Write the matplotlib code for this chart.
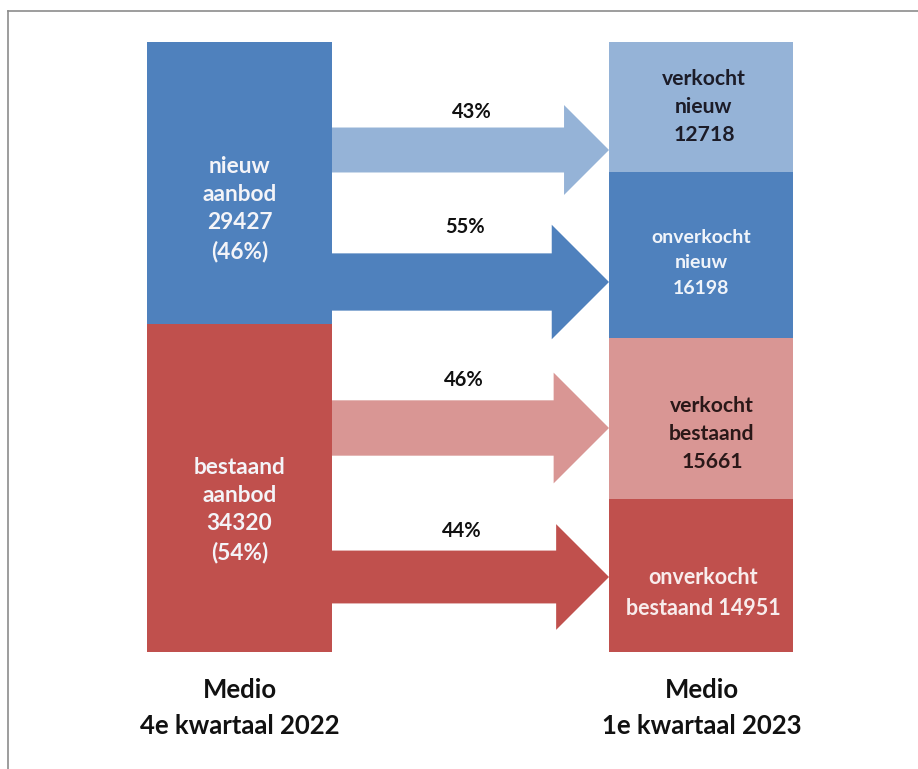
import matplotlib
matplotlib.use("Agg")
import matplotlib.pyplot as plt
from matplotlib.patches import Polygon
from matplotlib.lines import Line2D

# ---- data -------------------------------------------------------------
source_labels = ["nieuw\naanbod\n29427\n(46%)", "bestaand\naanbod\n34320\n(54%)"]
source_values = [29427, 34320]

target_labels = ["verkocht\nnieuw\n12718", "onverkocht\nnieuw\n16198",
                 "verkocht\nbestaand\n15661", "onverkocht\nbestaand 14951"]
target_values = [12718, 16198, 15661, 14951]

flow_pct = ["43%", "55%", "46%", "44%"]

period_labels = ["Medio\n4e kwartaal 2022", "Medio\n1e kwartaal 2023"]

# ---- styling ----------------------------------------------------------
BLUE, LBLUE = "#4F81BD", "#95B3D7"
RED, LRED = "#C0504D", "#D99694"
source_colors = [BLUE, RED]
target_colors = [LBLUE, BLUE, LRED, RED]
arrow_colors = [LBLUE, BLUE, LRED, RED]
FONT = "Lato"

W, H = 918, 769
fig = plt.figure(figsize=(W / 100, H / 100), dpi=100)
fig.patch.set_facecolor("white")

# axes: x in pixel-like layout units, y as share of column total (0 top, 1 bottom)
top_px, bot_px = 42, 652
ax = fig.add_axes([0, (H - bot_px) / H, 1, (bot_px - top_px) / H])
ax.set_xlim(0, W)
ax.set_ylim(1, 0)
ax.axis("off")
px_per_share = bot_px - top_px

left_x, left_w = 239.5, 185
right_x, right_w = 701, 184

# stacked columns
def stacked(x, w, values, colors):
    total = sum(values)
    segs, b = [], 0.0
    for v, c in zip(values, colors):
        s = v / total
        ax.bar(x, s, bottom=b, width=w, color=c, linewidth=0, align="center")
        segs.append((b, s))
        b += s
    return segs

src = stacked(left_x, left_w, source_values, source_colors)
tgt = stacked(right_x, right_w, target_values, target_colors)

# flow arrows: shaft thickness follows the target segment size
arrow_center_px = [150, 282, 428, 577]
shaft_k = 0.345
x0 = left_x + left_w / 2
x_tip = right_x - right_w / 2
for (b, s), cy_px, col in zip(tgt, arrow_center_px, arrow_colors):
    cy = (cy_px - top_px) / px_per_share
    half = s * shaft_k / 2
    head_len = 2 * half * px_per_share
    xh = x_tip - head_len
    pts = [(x0, cy - half), (xh, cy - half), (xh, cy - 2 * half), (x_tip, cy),
           (xh, cy + 2 * half), (xh, cy + half), (x0, cy + half)]
    ax.add_patch(Polygon(pts, closed=True, facecolor=col, edgecolor="none"))

# percentage labels above the arrows
pct_pos_px = [(472, 112), (465, 227), (464, 380), (462, 531)]
for t, (px, py) in zip(flow_pct, pct_pos_px):
    ax.text(px, (py - top_px) / px_per_share, t, ha="center", va="center",
            fontsize=14.5, fontweight="bold", family=FONT, color="#111111")

# column labels
src_text_px = [209, 510]
for t, py in zip(source_labels, src_text_px):
    ax.text(left_x, (py - top_px) / px_per_share, t, ha="center", va="center",
            fontsize=16.3, fontweight="bold", family=FONT, color="#F4F4F8",
            linespacing=1.42)

tgt_text = [(704, 107, 15.2, "#1C1C28", 1.5),
            (701, 263, 14, "#F0F4FA", 1.6),
            (712, 434, 15.2, "#2A1818", 1.5),
            (703, 593, 15.5, "#F8ECEC", 1.55)]
for t, (px, py, fs, col, ls) in zip(target_labels, tgt_text):
    ax.text(px, (py - top_px) / px_per_share, t, ha="center", va="center",
            fontsize=fs, fontweight="bold", family=FONT, color=col,
            linespacing=ls)

# period labels below the columns
for t, px in zip(period_labels, [240, 702]):
    ax.text(px, (708 - top_px) / px_per_share, t, ha="center", va="center",
            fontsize=18.5, fontweight="bold", family=FONT, color="#111111",
            linespacing=1.6)

# frame lines (top and left)
bx, by = 8 / W, 1 - 11 / H
fig.add_artist(Line2D([bx, bx], [0, by], transform=fig.transFigure,
                      color="#8C8C8C", linewidth=1.2))
fig.add_artist(Line2D([bx, 1], [by, by], transform=fig.transFigure,
                      color="#8C8C8C", linewidth=1.2))

fig.savefig("out.png", dpi=100, facecolor="white")
